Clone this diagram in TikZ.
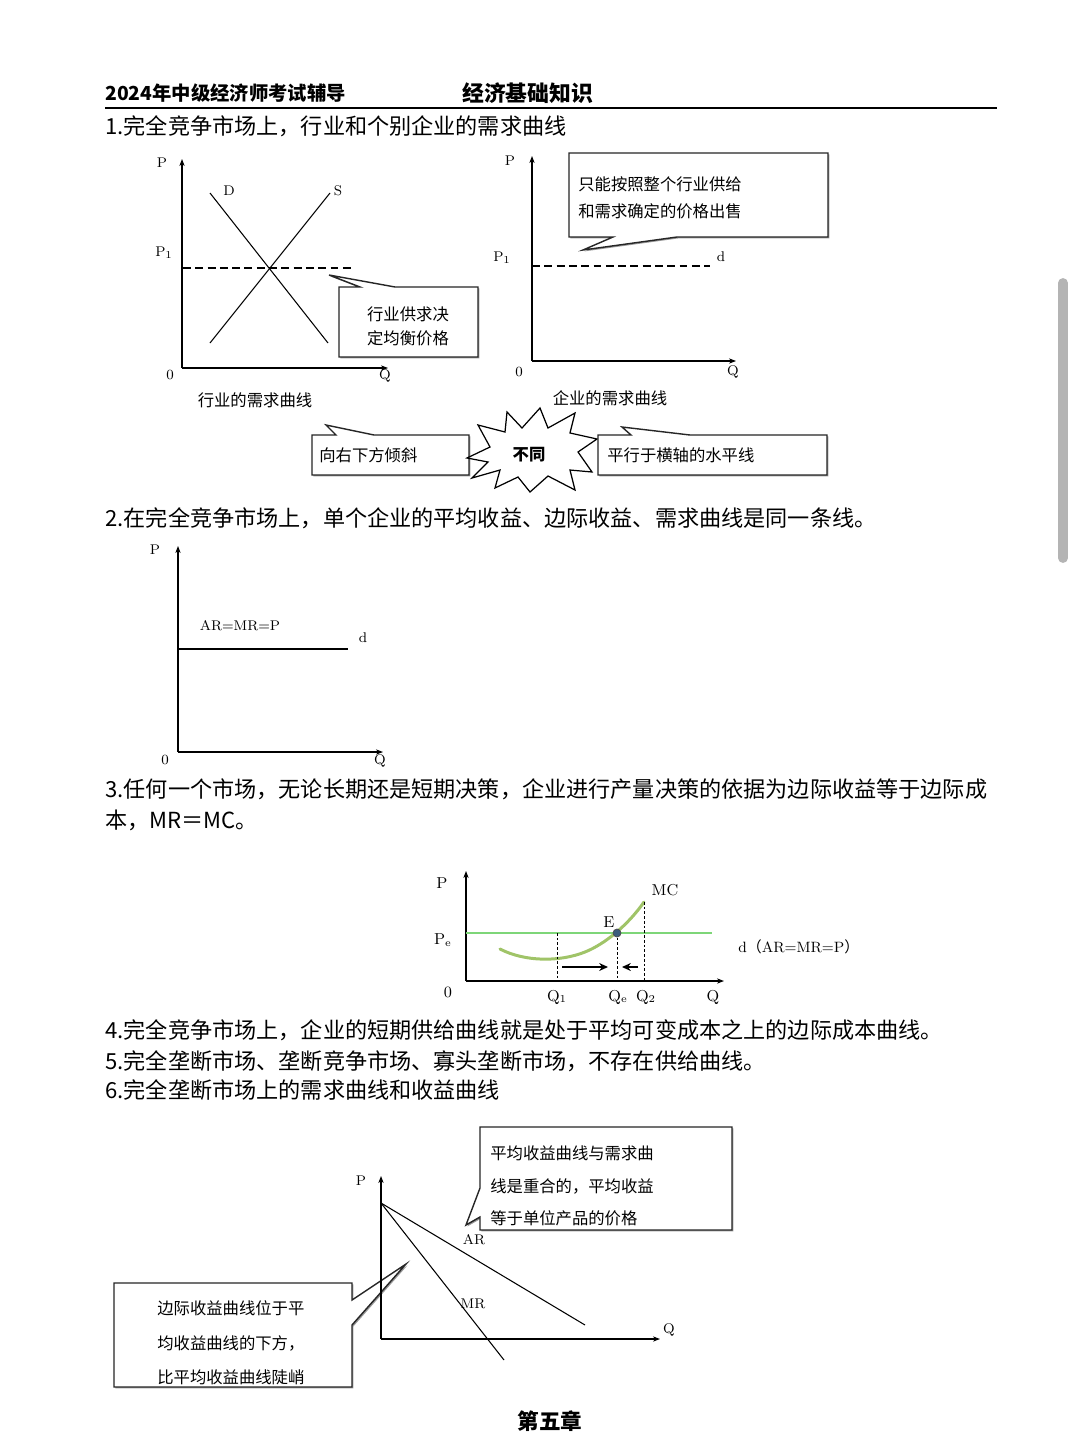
\documentclass[tikz,border=0pt]{standalone}
\usepackage{fontspec}
\usepackage{xcolor}
\usetikzlibrary{arrows.meta,shadows}
\newfontfamily\cjk{Noto Sans CJK SC}
\definecolor{dline}{RGB}{126,214,120}
\definecolor{mccurve}{RGB}{160,196,104}
\definecolor{edot}{RGB}{58,92,124}
\definecolor{scrollgray}{RGB}{180,180,180}
\newcommand{\txtbody}{\cjk\fontsize{12.6}{15}\selectfont}
\newcommand{\txtcall}{\cjk\fontsize{9.3}{13.6}\selectfont}
\newcommand{\txtlab}{\fontsize{8}{9}\selectfont}
\newcommand{\txtlabb}{\fontsize{9}{10}\selectfont}

\begin{document}
\begin{tikzpicture}[x=0.02cm,y=-0.02cm,
  ax/.style={line width=0.6pt,-{Stealth[length=4pt,width=3pt]}},
  curve/.style={line width=0.6pt},
  pline/.style={line width=0.6pt,dash pattern=on 4.5pt off 2.5pt},
  vline/.style={line width=0.4pt,dash pattern=on 1.5pt off 1.2pt},
  callbox/.style={draw=black!85,line width=0.8pt,fill=white,
    drop shadow={shadow xshift=0.8pt,shadow yshift=-0.8pt,fill=black!40,opacity=1}},
  mvarrow/.style={line width=1.4pt,-{Stealth[length=5pt,width=4.5pt]}}]
\tikzstyle{every node}+=[inner sep=0pt]
\fill[white] (0,0) rectangle (1080,1440);
\useasboundingbox (0,0) rectangle (1080,1440);

% header
\node[anchor=west] (hdl) at (105,93) {\cjk\bfseries\fontsize{11}{13}\selectfont 2024年中级经济师考试辅导};
\node[anchor=west] (hdr) at (462,93) {\cjk\bfseries\fontsize{12.4}{14}\selectfont 经济基础知识};
\coordinate (rl) at (105,108);
\coordinate (rr) at (997,108);
\draw[line width=1.5pt] (rl) -- (rr);
\node[anchor=west] (t1) at (105,126) {\txtbody 1.完全竞争市场上，行业和个别企业的需求曲线};

% industry demand
\coordinate (oa) at (182,368);
\coordinate (pa) at (182,159);
\coordinate (qa) at (388,368);
\draw[ax] (oa) -- (pa);
\draw[ax] (oa) -- (qa);
\node (lpa) at (162,163) {\txtlab P};
\node (loa) at (170,375) {\txtlab 0};
\node (lqa) at (385,376) {\txtlab Q};
\node (lp1a) at (164,253) {\txtlab P$_1$};
\coordinate (d1) at (210,193);
\coordinate (d2) at (328,343);
\coordinate (s1) at (210,343);
\coordinate (s2) at (330,193);
\draw[curve] (d1) -- (d2);
\draw[curve] (s1) -- (s2);
\node (ld) at (229,191) {\txtlab D};
\node (ls) at (338,191) {\txtlab S};
\coordinate (p1a) at (183,268);
\coordinate (p1b) at (355,268);
\draw[pline] (p1a) -- (p1b);
\draw[callbox] (339,287) -- (360,287) -- (329,275) -- (395,287) -- (478,287) -- (478,357) -- (339,357) -- cycle;
\node[align=center,font=\txtcall] (ca) at (408,326) {行业供求决\\定均衡价格};
\node (capa) at (255,400) {\txtcall 行业的需求曲线};

% firm demand
\coordinate (ob) at (532,361);
\coordinate (pb) at (532,156);
\coordinate (qb) at (736,361);
\draw[ax] (ob) -- (pb);
\draw[ax] (ob) -- (qb);
\node (lpb) at (510,161) {\txtlab P};
\node (lob) at (519,372) {\txtlab 0};
\node (lqb) at (733,372) {\txtlab Q};
\node (lp1b) at (502,258) {\txtlab P$_1$};
\node (ldb) at (721,257) {\txtlab d};
\coordinate (f1) at (532,266);
\coordinate (f2) at (710,266);
\draw[pline] (f1) -- (f2);
\draw[callbox] (569,153) -- (828,153) -- (828,237) -- (677,237) -- (583,250) -- (613,237) -- (569,237) -- cycle;
\node[anchor=west,align=left,font={\cjk\fontsize{9.3}{15.3}\selectfont}] (cb) at (578,197.5) {只能按照整个行业供给\\和需求确定的价格出售};
\node (capb) at (610,398) {\txtcall 企业的需求曲线};

% comparison row
\draw[callbox] (312,435) -- (336,435) -- (326,425) -- (374,435) -- (469,435) -- (469,475) -- (312,475) -- cycle;
\node[anchor=west] (cl) at (319,455) {\txtcall 向右下方倾斜};
\draw[line width=0.7pt,fill=white] (467,458) -- (490,447) -- (478,425) -- (505,432) -- (507,412) -- (522,428)
  -- (540,408) -- (548,428) -- (575,413) -- (570,433) -- (597,439) -- (578,452) -- (592,472) -- (570,470)
  -- (575,490) -- (548,476) -- (530,492) -- (518,477) -- (495,488) -- (500,470) -- (472,478) -- (488,462) -- cycle;
\node (diff) at (529,455) {\cjk\bfseries\fontsize{9.3}{11}\selectfont 不同};
\draw[callbox] (598,435) -- (631,435) -- (622,427) -- (690,435) -- (827,435) -- (827,475) -- (598,475) -- cycle;
\node[anchor=west] (cr) at (607,455) {\txtcall 平行于横轴的水平线};

\node[anchor=west] (t2) at (105,518) {\txtbody 2.在完全竞争市场上，单个企业的平均收益、边际收益、需求曲线是同一条线。};

% AR = MR = P
\coordinate (oc) at (178,752);
\coordinate (pc) at (178,546);
\coordinate (qc) at (383,752);
\draw[ax] (oc) -- (pc);
\draw[ax] (oc) -- (qc);
\node (lpc) at (155,550) {\txtlab P};
\node (loc) at (165,760) {\txtlab 0};
\node (lqc) at (380,761) {\txtlab Q};
\coordinate (h1) at (178,649);
\coordinate (h2) at (348,649);
\draw[curve] (h1) -- (h2);
\node (lar) at (240,626) {\txtlab AR$=$MR$=$P};
\node (ldc) at (363,638) {\txtlab d};

\node[anchor=west] (t3) at (105,789) {\txtbody 3.任何一个市场，无论长期还是短期决策，企业进行产量决策的依据为边际收益等于边际成};
\node[anchor=west] (t3b) at (105,820) {\txtbody 本，MR＝MC。};

% MR = MC
\coordinate (od) at (466,981);
\coordinate (pd) at (466,871);
\coordinate (qd) at (724,981);
\draw[ax] (od) -- (pd);
\draw[ax] (od) -- (qd);
\coordinate (g1) at (466,933);
\coordinate (g2) at (712,933);
\draw[dline,line width=1.1pt] (g1) -- (g2);
\coordinate (m0) at (500,949);
\coordinate (m1) at (585,952);
\coordinate (m2) at (644,902);
\coordinate (e) at (617,933);
\draw[mccurve,line width=1.7pt,line cap=round] (m0) .. controls (525,962) and (560,962) .. (m1)
  .. controls (605,944) and (628,925) .. (m2);
\draw[vline] (557,933) coordinate (q1t) -- (557,981) coordinate (q1b);
\draw[vline] (e) -- (617,981) coordinate (qeb);
\draw[vline] (m2) -- (644,981) coordinate (q2b);
\fill[edot] (e) circle (4);
\draw[black!70,line width=0.4pt] (e) circle (4);
\coordinate (a1) at (562,967);
\coordinate (a2) at (608,967);
\coordinate (a3) at (638,967);
\coordinate (a4) at (622,967);
\draw[mvarrow] (a1) -- (a2);
\draw[mvarrow] (a3) -- (a4);
\node (lpd) at (442,883) {\txtlabb P};
\node (lped) at (443,940) {\txtlabb P$_\mathrm{e}$};
\node (lod) at (448,992) {\txtlabb 0};
\node (lq1) at (557,997) {\txtlabb Q$_1$};
\node (lqe) at (618,997) {\txtlabb Q$_\mathrm{e}$};
\node (lq2) at (646,997) {\txtlabb Q$_2$};
\node (lqd) at (713,997) {\txtlabb Q};
\node (lmc) at (665,890) {\txtlabb MC};
\node (le) at (609,922) {\txtlabb E};
\node[anchor=west] (ldd) at (738,947) {\fontsize{8.5}{10}\selectfont d{\cjk （}AR=MR=P{\cjk ）}};

\node[anchor=west] (t4) at (105,1030) {\txtbody 4.完全竞争市场上，企业的短期供给曲线就是处于平均可变成本之上的边际成本曲线。};
\node[anchor=west] (t5) at (105,1061) {\txtbody 5.完全垄断市场、垄断竞争市场、寡头垄断市场，不存在供给曲线。};
\node[anchor=west] (t6) at (105,1090) {\txtbody 6.完全垄断市场上的需求曲线和收益曲线};

% monopoly
\draw[callbox] (114,1283) -- (352,1283) -- (352,1300) -- (406,1264) -- (352,1325) -- (352,1387) -- (114,1387) -- cycle;
\node[anchor=west,align=left,font={\cjk\fontsize{9.3}{19.6}\selectfont}] (cmr) at (157,1343) {边际收益曲线位于平\\均收益曲线的下方，\\比平均收益曲线陡峭};
\coordinate (oe) at (381,1339);
\coordinate (pe) at (381,1176);
\coordinate (qe) at (660,1339);
\draw[ax] (oe) -- (pe);
\draw[ax] (oe) -- (qe);
\coordinate (te) at (381,1203);
\coordinate (are) at (585,1325);
\coordinate (mre) at (504,1360);
\draw[curve] (te) -- (are);
\draw[curve] (te) -- (mre);
\node (lpe) at (361,1181) {\txtlab P};
\node (lqe2) at (669,1330) {\txtlab Q};
\node (lare) at (474,1240) {\txtlab AR};
\node (lmre) at (473,1304) {\txtlab MR};
\draw[callbox] (480,1127) -- (732,1127) -- (732,1230) -- (480,1230) -- (480,1217) -- (466,1225) -- (480,1188) -- cycle;
\node[anchor=west,align=left,font={\cjk\fontsize{9.3}{18.4}\selectfont}] (cat) at (490,1186) {平均收益曲线与需求曲\\线是重合的，平均收益\\等于单位产品的价格};

\node (chap) at (550,1421) {\cjk\bfseries\fontsize{12.3}{14}\selectfont 第五章};

% scrollbar
\coordinate (sb1) at (1063,283);
\coordinate (sb2) at (1063,558);
\draw[scrollgray,line width=5.6pt,line cap=round] (sb1) -- (sb2);
\end{tikzpicture}
\end{document}
